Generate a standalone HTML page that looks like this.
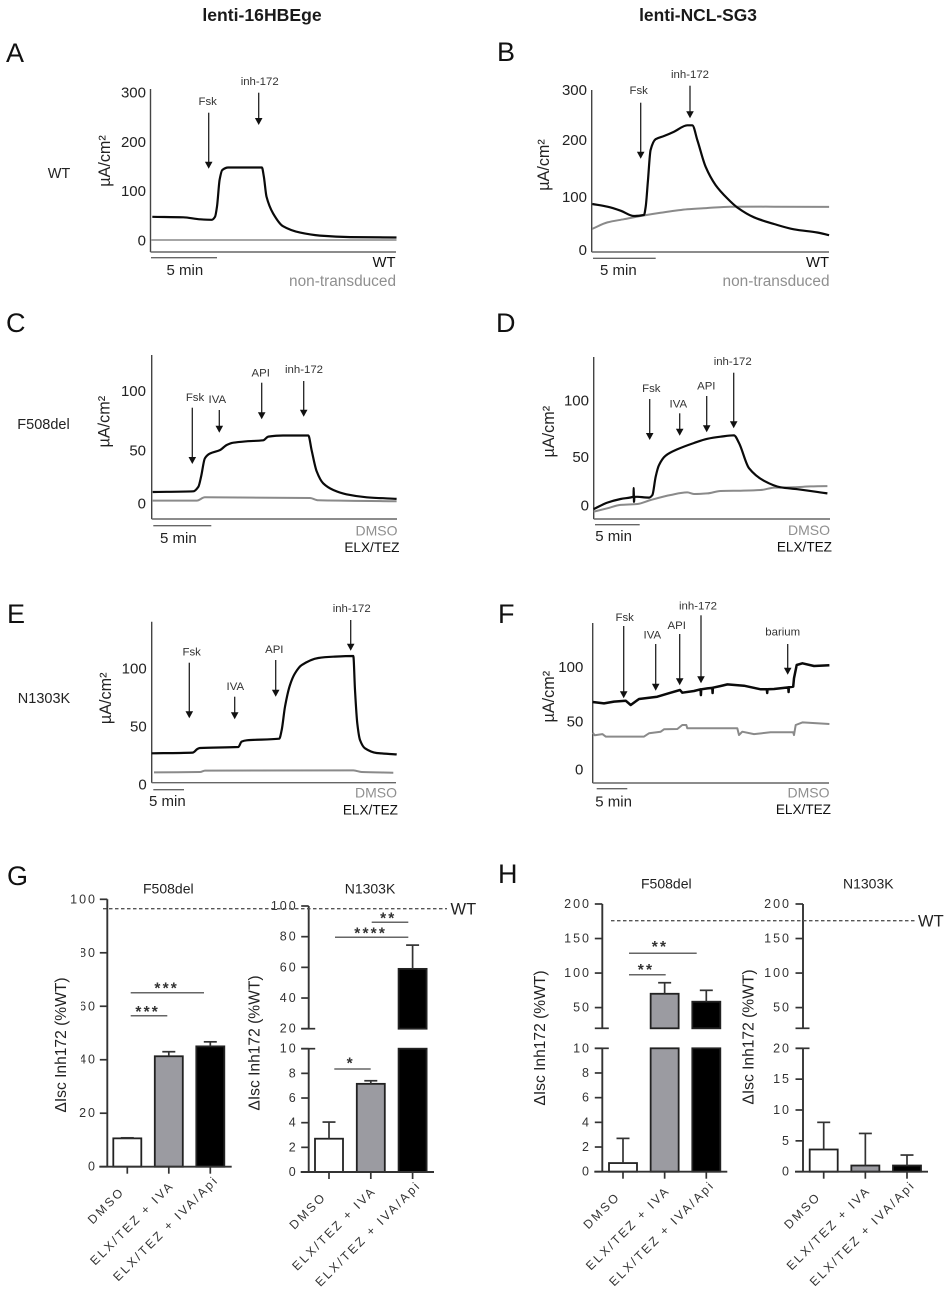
<!DOCTYPE html>
<html lang="en">
<head>
<meta charset="utf-8">
<title>lenti-16HBEge and lenti-NCL-SG3 short-circuit current figure</title>
<style>
html,body{margin:0;padding:0;background:#fff;}
svg{display:block;font-family:"Liberation Sans",sans-serif;filter:blur(0.35px);}
</style>
</head>
<body>
<svg id="figure" xmlns="http://www.w3.org/2000/svg" width="948" height="1294" viewBox="0 0 948 1294">
<defs>
<clipPath id="g-tick-clip"><rect x="81" y="880" width="60" height="300"/></clipPath>
</defs>
<rect width="948" height="1294" fill="#fff"/>
<text x="262" y="21" font-size="17.6" font-weight="bold" text-anchor="middle" fill="#1a1a1a">lenti-16HBEge</text>
<text x="698" y="21" font-size="17.4" font-weight="bold" text-anchor="middle" fill="#1a1a1a">lenti-NCL-SG3</text>

<text x="6" y="62" font-size="27" fill="#111">A</text>
<text x="497" y="61" font-size="27" fill="#111">B</text>
<text x="6" y="332" font-size="27" fill="#111">C</text>
<text x="496" y="332" font-size="27" fill="#111">D</text>
<text x="7" y="623" font-size="27" fill="#111">E</text>
<text x="498" y="623" font-size="27" fill="#111">F</text>
<text x="7" y="885" font-size="27" fill="#111">G</text>
<text x="498" y="883" font-size="27" fill="#111">H</text>

<text x="59" y="178" font-size="14.5" text-anchor="middle" fill="#222">WT</text>
<text x="43.5" y="429" font-size="14.5" text-anchor="middle" fill="#222">F508del</text>
<text x="44" y="703" font-size="14.5" text-anchor="middle" fill="#222">N1303K</text>

<g id="panel-a"></g>
<g id="panel-b"></g>
<g id="panel-c"></g>
<g id="panel-d"></g>
<g id="panel-e"></g>
<g id="panel-f"></g>
<g id="panel-g1"></g>
<g id="panel-g2"></g>
<g id="panel-h1"></g>
<g id="panel-h2"></g>

<line x1="103" y1="908.7" x2="447" y2="908.7" stroke="#555" stroke-width="1.3" stroke-dasharray="3.5 2.5"/>
<text x="450.5" y="914.5" font-size="16.5" fill="#222">WT</text>
<line x1="611" y1="920.7" x2="917" y2="920.7" stroke="#555" stroke-width="1.3" stroke-dasharray="3.5 2.5"/>
<text x="918" y="926.5" font-size="16.5" fill="#222">WT</text>
</svg>

<script>
// ---------- Trace data: minutes and uA/cm2 ----------
const timeA = [0.1,2.45,3.7,4.6,4.85,5.0,5.2,5.4,5.85,8.4,8.55,8.75,9.25,10.0,11.3,12.8,15.1,18.6];
const blackA = [49,48,44,43,49,70,124,144,149,149,130,90,56,30,17,11,8,7];
const greyTimeA = [0,9,18.6];
const greyA = [2,2,2];
const ticksA = [0,100,200,300];

const timeB = [0,1.2,2.26,3.32,4.12,4.26,4.44,4.65,5.05,5.72,6.52,7.58,7.98,8.38,9.04,9.84,10.77,11.57,12.9,14.5,16.09,17.95,18.9];
const blackB = [87.5,82.5,75,65,67,82.5,132.5,189,209,215,223,235,235,207.5,157.5,123,98,81,62.5,50,40,34,29];
const greyTimeB = [0,1.2,2.53,3.86,5.45,7.58,9.18,11.04,14.5,18.9];
const greyB = [41,53,59,65,71,77.5,80,82.5,82.5,82];
const ticksB = [0,100,200,300];

const timeC = [0,3.5,3.94,4.17,4.5,4.94,5.8,6.38,6.95,8.1,9.54,9.97,11.26,13.42,13.7,14.14,14.7,15.57,16.7,18.45,21.03];
const blackC = [10.7,11.3,15.4,24,40.7,45,48,52.5,54.6,55.8,56.7,60,61,61,48,29,18.4,12.5,8.6,6,4.5];
const greyTimeC = [0,3.8,4.5,13.56,14.28,21.03];
const greyC = [3,3,6,5.3,3.3,2.4];
const ticksC = [0,50,100];

const timeD = [0,1.53,3.02,4.46,4.48,4.52,4.56,6.2,6.57,6.94,7.31,8.06,9.37,11.23,12.72,14.2,15.7,16.27,17.39,19.07,20.93,22.8,26.16];
const blackD = [-3,3.2,6.7,8.9,17,4,8.9,8,10.5,28,39,48,54,60,64,66,67.3,60,36,24,17.8,16,12];
const greyTimeD = [0,1.53,3.02,4.89,6.38,8.62,10.48,11.23,12.72,14.2,16.46,18.7,20.2,22.4,24.3,26.16];
const greyD = [-5.4,-2.2,1,1.9,5.7,10.5,13,11.4,12,14.3,14.6,15.2,17.5,17.8,18.7,19];
const ticksD = [0,50,100];

const timeE = [0,6.68,7.45,7.88,14.13,14.67,15.49,20.8,21.2,21.74,22.55,23.37,24.46,27.17,29.6,32.88,33.15,33.53,33.97,34.78,36.68,39.95];
const blackE = [27.3,27.9,31,31.9,32.8,37.4,38.5,39.9,47.4,67.5,86.2,96.3,103.4,109.5,110.6,111.2,81.9,53,38.8,31.6,27.6,26.4];
const greyTimeE = [0.38,7.88,8.7,32.88,34.24,39.4];
const greyE = [10.9,11.2,12.4,12.6,11.2,10.6];
const ticksE = [0,50,100];

const timeF = [0,1.85,3.48,5.38,6.2,7.55,10.54,12.72,14.24,14.62,16.52,17.6,17.65,17.7,18.7,19.5,19.55,19.6,20.87,21.96,24.67,27.4,28.4,28.45,28.5,29.57,31.9,31.95,32,32.7,32.83,33.26,34.2,36.09,38.6];
const blackF = [66.2,64.9,66.6,67.5,63.3,69.2,71.4,75.3,77.9,75.3,76.9,78.6,73,78.6,79.5,80,75,80.2,81.8,83.4,82.1,78.6,78.6,75,78.6,78.9,80.5,76,80.6,81.2,89.3,102.3,103.9,101.3,102];
const greyTimeF = [0,0.33,1.58,2.12,8.37,9.18,11.09,11.63,13.8,14.62,15.27,15.43,23.59,23.86,24.4,26.3,29,32.7,32.83,33.1,34.2,38.6];
const greyF = [36.4,33.8,35,32.5,32.5,35.7,37.3,39.6,39.9,43.8,43.8,40.6,40.6,34.1,37.3,35,36.7,36.7,34,43.8,46.4,44.8];
const ticksF = [0,50,100];

// ---------- Bar data: %WT ----------
const categories = ["DMSO","ELX/TEZ + IVA","ELX/TEZ + IVA/Api"];
const barFills = ["#ffffff","#9b9ba1","#000000"];

const valuesG1 = [10.6,41.3,45];
const errorTopsG1 = [10.8,43,46.7];
const ticksG1 = [0,20,40,60,80,100];

const valuesG2 = [2.7,7.15,59];
const errorTopsG2 = [4.05,7.4,74.5];
const lowerTicksG2 = [0,2,4,6,8,10];
const upperTicksG2 = [20,40,60,80,100];

const valuesH1 = [0.7,70,58.5];
const errorTopsH1 = [2.7,86,75];
const lowerTicksH1 = [0,2,4,6,8,10];
const upperTicksH1 = [50,100,150,200];

const valuesH2 = [3.6,1.0,1.0];
const errorTopsH2 = [8,6.2,2.7];
const lowerTicksH2 = [0,5,10,15,20];
const upperTicksH2 = [50,100,150,200];

// ---------- Drawing ----------
const NS = "http://www.w3.org/2000/svg";
function make(parent, tag, attrs, content){
  const el = document.createElementNS(NS, tag);
  for (const k in attrs) el.setAttribute(k, attrs[k]);
  if (content !== undefined) el.textContent = content;
  parent.appendChild(el);
  return el;
}
function label(parent, x, y, str, size, anchor, fill, extra){
  return make(parent, "text", Object.assign({x:x, y:y, "font-size":size, "text-anchor":anchor, fill:fill, "dominant-baseline":"central"}, extra||{}), str);
}
// Monotone cubic curve through the points (no overshoot at the plateaus).
function curvePath(px, py){
  const n = px.length;
  const d = [], m = [];
  for (let i = 0; i < n-1; i++) d.push((py[i+1]-py[i]) / Math.max(px[i+1]-px[i], 0.001));
  m.push(d[0]);
  for (let i = 1; i < n-1; i++) m.push(d[i-1]*d[i] <= 0 ? 0 : 2*d[i-1]*d[i]/(d[i-1]+d[i]));
  m.push(d[n-2]);
  let path = "M" + px[0].toFixed(1) + " " + py[0].toFixed(1);
  for (let i = 0; i < n-1; i++){
    const h = (px[i+1]-px[i]) / 3;
    path += "C" + (px[i]+h).toFixed(2) + " " + (py[i]+m[i]*h).toFixed(2) + " " + (px[i+1]-h).toFixed(2) + " " + (py[i+1]-m[i+1]*h).toFixed(2) + " " + px[i+1].toFixed(1) + " " + py[i+1].toFixed(1);
  }
  return path;
}
function linePath(px, py){
  return px.map((v,i) => (i ? "L" : "M") + v.toFixed(1) + " " + py[i].toFixed(1)).join("");
}

function drawTrace(id, cfg, times, black, greyTimes, grey, ticks){
  const g = document.getElementById(id);
  const x = t => cfg.x0 + t * cfg.pxPerMin;
  const y = v => cfg.y0 - v * cfg.pxPerUnit;
  const pathFor = cfg.steppy ? linePath : curvePath;

  const yAxis = make(g, "line", {x1:cfg.axisX, y1:cfg.top, x2:cfg.axisX, y2:cfg.bottom, stroke:"#444", "stroke-width":1.4});
  
  
  const xAxis = make(g, "line", {x1:cfg.axisX, y1:cfg.bottom, x2:cfg.right, y2:cfg.bottom, stroke:"#666", "stroke-width":1.4});
  
  

  ticks.forEach(v => {
    const nudge = (cfg.tickNudge && cfg.tickNudge[v]) || 0;
    const t = label(g, cfg.tickRight, y(v) + nudge, String(v), 15, "end", "#222");
    
    
  });

  const title = label(g, 0, 0, "µA/cm²", 16.2, "middle", "#222", {transform:"translate("+cfg.titleX+" "+cfg.titleY+") rotate(-90)"});
  
  

  const greyLine = make(g, "path", {d:pathFor(greyTimes.map(x), grey.map(y)), fill:"none", stroke:cfg.greyColor||"#8a8a8a", "stroke-width":2, "stroke-linejoin":"round"});
  
  

  const blackLine = make(g, "path", {d:pathFor(times.map(x), black.map(y)), fill:"none", stroke:"#0a0a0a", "stroke-width":cfg.steppy ? 2.5 : 2.2, "stroke-linejoin":"round"});
  
  

  const bar = make(g, "line", {x1:cfg.bar[0], y1:cfg.bar[2], x2:cfg.bar[1], y2:cfg.bar[2], stroke:"#666", "stroke-width":1.4});
  
  
  const barText = label(g, cfg.barText[0], cfg.barText[1], "5 min", 15, "start", "#222");
  
  

  cfg.legend.forEach(e => {
    const t = label(g, e[1], e[2], e[0], e[4], "end", e[3]);
    
    
  });

  cfg.arrows.forEach(a => {
    const ln = make(g, "line", {x1:a[1], y1:a[2], x2:a[1], y2:a[3]-6, stroke:"#222", "stroke-width":1.3});
    
    
    const hd = make(g, "polygon", {points:(a[1]-3.8)+","+(a[3]-7)+" "+(a[1]+3.8)+","+(a[3]-7)+" "+a[1]+","+a[3], fill:"#111"});
    
    
    const tx = label(g, a[4], a[5], a[0], 11.4, "middle", "#333");
    
    
  });
}

function drawBars(id, cfg, values, errorTops, segments){
  const g = document.getElementById(id);
  const y = v => {
    for (const s of segments) if (v >= s.min && v <= s.max) return s.y0 - (v - s.min) * (s.y0 - s.y1) / (s.max - s.min);
    const s = segments[segments.length-1];
    return s.y0 - (v - s.min) * (s.y0 - s.y1) / (s.max - s.min);
  };
  const cx = i => cfg.firstX + i * cfg.step;
  const catShiftX = [-2, 6, 9];
  const catShiftY = [25.5, 19.5, 14];

  values.forEach((v,i) => {
    segments.forEach(s => {
      if (v <= s.min) return;
      const top = y(Math.min(v, s.max)), bot = y(s.min);
      const r = make(g, "rect", {x:cx(i)-14, y:top, width:28, height:bot-top, fill:barFills[i], stroke:"#222", "stroke-width":1.8});
      
      
    });
    const e = make(g, "line", {x1:cx(i), y1:y(v), x2:cx(i), y2:y(errorTops[i]), stroke:"#333", "stroke-width":1.7});
    
    
    const c = make(g, "line", {x1:cx(i)-6.5, y1:y(errorTops[i]), x2:cx(i)+6.5, y2:y(errorTops[i]), stroke:"#333", "stroke-width":1.7});
    
    
    const tk = make(g, "line", {x1:cx(i), y1:cfg.baseY, x2:cx(i), y2:cfg.baseY+7, stroke:"#333", "stroke-width":1.7});
    
    
    const lx = cx(i) + catShiftX[i], ly = cfg.baseY + catShiftY[i];
    const tx = make(g, "text", {x:lx, y:ly, "font-size":12.3, "letter-spacing":2.3, "text-anchor":"end", fill:"#333", transform:"rotate(-45 "+lx+" "+ly+")"}, categories[i]);
    
    
  });

  segments.forEach(s => {
    const ax = make(g, "line", {x1:cfg.axisX, y1:s.y0, x2:cfg.axisX, y2:s.y1, stroke:"#333", "stroke-width":1.9});
    
    
    s.ticks.forEach(v => {
      const p = y(v);
      const tk = make(g, "line", {x1:cfg.axisX-7.5, y1:p, x2:cfg.axisX, y2:p, stroke:"#333", "stroke-width":1.7});
      
      
      const extra = {"letter-spacing":2};
      if (cfg.clipped && cfg.clipped.indexOf(v) >= 0) extra["clip-path"] = "url(#g-tick-clip)";
      const tx = label(g, cfg.tickRight+2, p, String(v), 12.5, "end", "#333", extra);
      
      
    });
    if (s.breakY !== undefined) {
      const bk = make(g, "line", {x1:cfg.axisX-7.5, y1:s.breakY, x2:cfg.axisX+6.5, y2:s.breakY, stroke:"#333", "stroke-width":1.7});
      
      
    }
  });

  const base = make(g, "line", {x1:cfg.axisX-8, y1:cfg.baseY, x2:cfg.baseRight, y2:cfg.baseY, stroke:"#333", "stroke-width":1.9});
  
  

  const sub = label(g, cfg.subX, cfg.subY, cfg.sub, 14, "middle", "#222");
  
  

  const yt = label(g, 0, 0, "ΔIsc Inh172 (%WT)", 15.6, "middle", "#222", {transform:"translate("+cfg.titleX+" "+cfg.titleY+") rotate(-90)"});
  
  

  cfg.sig.forEach(b => {
    const ln = make(g, "line", {x1:b[0], y1:b[2], x2:b[1], y2:b[2], stroke:"#666", "stroke-width":1.5});
    
    
    const st = make(g, "text", {x:b[4], y:b[5]+7.5, "font-size":15.5, "font-weight":"bold", "letter-spacing":2.2, "text-anchor":"middle", fill:"#333"}, b[3]);
    
    
  });
}

const blk = "#111", gr = "#8f8f8f";

drawTrace("panel-a", {x0:151,pxPerMin:13.2,y0:241,pxPerUnit:0.4933,axisX:150.5,top:89,bottom:252,right:396,tickRight:146,titleX:105,titleY:161,greyColor:"#a6a6a6",
  bar:[151,217,257.7],barText:[166.5,270.5],
  legend:[["WT",395.5,263,blk,14.8],["non-transduced",396,281.7,gr,15.4]],
  arrows:[["Fsk",208.7,112.7,168.7,207.7,102],["inh-172",258.7,92.7,125,259.7,82]]
}, timeA, blackA, greyTimeA, greyA, ticksA);

drawTrace("panel-b", {x0:592.33,pxPerMin:12.53,y0:250.67,pxPerUnit:0.5333,axisX:591.7,top:90,bottom:252,right:829,tickRight:587,titleX:544,titleY:165,tickNudge:{200:-3.5},
  bar:[593,655.7,258.3],barText:[600,270.5],
  legend:[["WT",829,263,blk,14.8],["non-transduced",829.5,281.7,gr,15.4]],
  arrows:[["Fsk",640.7,102.7,158.7,638.7,91],["inh-172",690,85.7,118.3,690,75]]
}, timeB, blackB, greyTimeB, greyB, ticksB);

drawTrace("panel-c", {x0:152.67,pxPerMin:11.6,y0:504,pxPerUnit:1.1233,axisX:151.7,top:355,bottom:519,right:397,tickRight:146,titleX:104.3,titleY:421.7,tickNudge:{50:3},
  bar:[153.3,211.3,525.7],barText:[160,538.7],
  legend:[["DMSO",397.5,530.7,gr,14],["ELX/TEZ",399.5,547.7,blk,13.6]],
  arrows:[["Fsk",192.3,407.7,464,195,398],["IVA",219.3,410,432.7,217.3,400],["API",261.7,382.7,419.3,260.7,373.3],["inh-172",303.7,381,416.7,304,370]]
}, timeC, blackC, greyTimeC, greyC, ticksC);

drawTrace("panel-d", {x0:593.67,pxPerMin:8.933,y0:506,pxPerUnit:1.05,axisX:593.7,top:357,bottom:519,right:830,tickRight:589,titleX:549,titleY:431.7,tickNudge:{50:4},
  bar:[595,639.7,524.7],barText:[595.3,536.7],
  legend:[["DMSO",830,530,gr,14],["ELX/TEZ",832,547,blk,13.6]],
  arrows:[["Fsk",649.7,399,440,651.3,389],["IVA",679.7,413.3,435.7,678.3,404.3],["API",706.7,396,432.3,706.3,386.3],["inh-172",733.7,372.7,428.3,732.7,362]]
}, timeD, blackD, greyTimeD, greyD, ticksD);

drawTrace("panel-e", {x0:151.67,pxPerMin:6.133,y0:785,pxPerUnit:1.16,axisX:151.7,top:621.7,bottom:782.7,right:396,tickRight:146.7,titleX:106,titleY:698.3,
  bar:[153.3,184,789.7],barText:[149,801.3],
  legend:[["DMSO",397,792.7,gr,14],["ELX/TEZ",398,810,blk,13.6]],
  arrows:[["Fsk",189.3,662.7,718.3,191.7,652.7],["IVA",234.7,696.7,719.3,235.3,687],["API",275.7,660,696.7,274.3,650],["inh-172",350.7,620,650.7,351.7,609]]
}, timeE, blackE, greyTimeE, greyE, ticksE);

drawTrace("panel-f", {x0:592.67,pxPerMin:6.133,y0:770,pxPerUnit:1.0267,axisX:592.7,top:623,bottom:783,right:829,tickRight:583.3,titleX:549,titleY:696.7,tickNudge:{50:3.5},steppy:true,
  bar:[596.7,627.3,788.7],barText:[595.3,802],
  legend:[["DMSO",829.5,792.3,gr,14],["ELX/TEZ",831,809.3,blk,13.6]],
  arrows:[["Fsk",623.7,626,698.3,624.7,618],["IVA",655.7,644,690.7,652.3,635.3],["API",679.7,634,685.3,676.7,626],["inh-172",701,615.3,683.3,698,606.7],["barium",787.7,644,674.7,782.7,632.7]]
}, timeF, blackF, greyTimeF, greyF, ticksF);

drawBars("panel-g1", {axisX:107.3,firstX:127.3,step:41.5,baseY:1166.7,baseRight:231.7,tickRight:95,clipped:[40,60,80],
  sub:"F508del",subX:168.3,subY:888.3,titleX:61.7,titleY:1045,
  sig:[[130.7,204,992.7,"***",166.7,986],[130.7,167.3,1015.7,"***",147.7,1009.3]]
}, valuesG1, errorTopsG1, [{min:0,max:100,y0:1166.7,y1:899.3,ticks:ticksG1}]);

drawBars("panel-g2", {axisX:308.7,firstX:329,step:41.8,baseY:1172,baseRight:434,tickRight:295.7,
  sub:"N1303K",subX:370,subY:888.3,titleX:255,titleY:1043,
  sig:[[334.3,370.7,1069,"*",350.7,1061],[335,408.3,937.3,"****",370.7,931],[371.7,408.3,922.3,"**",388.3,916]]
}, valuesG2, errorTopsG2, [{min:0,max:10,y0:1172,y1:1048.7,ticks:lowerTicksG2,breakY:1048.7},{min:20,max:100,y0:1028.7,y1:906,ticks:upperTicksG2,breakY:1028.7}]);

drawBars("panel-h1", {axisX:602.3,firstX:623,step:41.65,baseY:1171.7,baseRight:727.3,tickRight:589,
  sub:"F508del",subX:666.3,subY:883.3,titleX:540.7,titleY:1038,
  sig:[[629,696.7,953.3,"**",660,944.3],[629,665.7,974.7,"**",646,967.3]]
}, valuesH1, errorTopsH1, [{min:0,max:10,y0:1171.7,y1:1048.3,ticks:lowerTicksH1,breakY:1048.3},{min:20,max:200,y0:1028.3,y1:904,ticks:upperTicksH1,breakY:1028.3}]);

drawBars("panel-h2", {axisX:803,firstX:823.7,step:41.65,baseY:1171.7,baseRight:928,tickRight:789,
  sub:"N1303K",subX:868.3,subY:883.3,titleX:749,titleY:1037,
  sig:[]
}, valuesH2, errorTopsH2, [{min:0,max:20,y0:1171.7,y1:1048.3,ticks:lowerTicksH2,breakY:1048.3},{min:20.001,max:200,y0:1028.3,y1:904,ticks:upperTicksH2,breakY:1028.3}]);
</script>
</body>
</html>
